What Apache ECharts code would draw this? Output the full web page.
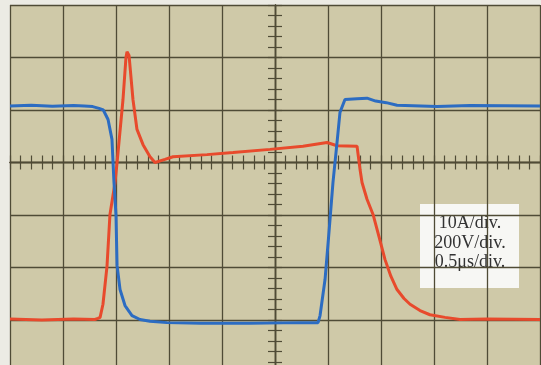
<!DOCTYPE html>
<html>
<head>
<meta charset="utf-8">
<script src="https://cdn.jsdelivr.net/npm/echarts@6/dist/echarts.min.js"></script>
<style>
html,body{margin:0;padding:0;background:#ecebe4;}
#c{width:541px;height:365px;}
</style>
</head>
<body>
<div id="c"></div>
<script>
// time in microseconds (0 = screen centre), 0.5 us/div
// current trace (A), 10 A/div
var currentData = [
  [-2.5, 0.2], [-2.2, 0.0], [-1.9, 0.2], [-1.7, 0.1], [-1.67, 0.3], [-1.65, 0.5],
  [-1.623, 3.0], [-1.585, 10.2], [-1.557, 20.1], [-1.509, 26.2], [-1.49, 30.0],
  [-1.434, 42.0], [-1.406, 50.0], [-1.396, 51.1], [-1.377, 50.4], [-1.34, 42.0],
  [-1.302, 36.3], [-1.245, 33.4], [-1.179, 31.1], [-1.132, 30.0], [-1.038, 30.6],
  [-0.962, 31.1], [-0.642, 31.5], [-0.396, 31.9], [-0.047, 32.5], [0.264, 33.1],
  [0.491, 33.8], [0.585, 33.2], [0.774, 33.1], [0.802, 28.7], [0.821, 26.2],
  [0.868, 23.0], [0.925, 20.1], [0.981, 15.9], [1.038, 11.5], [1.094, 8.3],
  [1.151, 5.8], [1.217, 4.1], [1.274, 3.0], [1.368, 1.8], [1.462, 1.0],
  [1.604, 0.5], [1.745, 0.1], [2.0, 0.2], [2.5, 0.1]
];
// voltage trace (V), 200 V/div
var voltageData = [
  [-2.5, 815], [-2.3, 818], [-2.1, 814], [-1.9, 817], [-1.8, 815], [-1.72, 813],
  [-1.66, 806], [-1.62, 800], [-1.575, 764], [-1.538, 688], [-1.519, 524],
  [-1.5, 398], [-1.49, 208], [-1.462, 116], [-1.415, 55], [-1.349, 17],
  [-1.274, 2], [-1.18, -5], [-1.019, -10], [-0.7, -12], [-0.24, -12], [0.24, -10],
  [0.406, -10], [0.425, 17], [0.472, 154], [0.509, 333], [0.547, 524],
  [0.585, 676], [0.613, 791], [0.66, 840], [0.774, 843], [0.868, 845],
  [0.95, 834], [1.05, 828], [1.151, 818], [1.528, 813], [1.84, 817], [2.5, 815]
];
var scaleLines = ['10A/div.', '200V/div.', '0.5\u03bcs/div.'];

var gridCol = '#4f4b36';
var chart = echarts.init(document.getElementById('c'), null, {renderer: 'canvas'});
function centreX(pos) {
  return {
    type: 'value', min: -2.5, max: 2.5, interval: 0.1, position: pos,
    axisLine: {show: true, onZero: true, onZeroAxisIndex: 0, lineStyle: {color: gridCol, width: 1.4}},
    axisTick: {show: true, inside: false, length: 7, lineStyle: {color: gridCol, width: 1.2}},
    axisLabel: {show: false}, splitLine: {show: false}
  };
}
function centreY(pos) {
  return {
    type: 'value', min: -5, max: 3, interval: 0.2, position: pos,
    axisLine: {show: true, onZero: true, onZeroAxisIndex: 0, lineStyle: {color: gridCol, width: 1.4}},
    axisTick: {show: true, inside: false, length: 7, lineStyle: {color: gridCol, width: 1.2}},
    axisLabel: {show: false}, splitLine: {show: false}
  };
}
chart.setOption({
  backgroundColor: '#ecebe4',
  animation: false,
  grid: {left: 10, top: 5, width: 530, height: 420, outerBoundsMode: 'none', containLabel: false,
         show: true, backgroundColor: '#cfc9a8', borderWidth: 0},
  xAxis: [
    {type: 'value', min: -2.5, max: 2.5, interval: 0.5,
     axisLine: {show: false}, axisTick: {show: false}, axisLabel: {show: false},
     splitLine: {show: true, lineStyle: {color: gridCol, width: 1.3}}},
    centreX('bottom'),
    centreX('top')
  ],
  yAxis: [
    {type: 'value', min: -5, max: 3, interval: 1,
     axisLine: {show: false}, axisTick: {show: false}, axisLabel: {show: false},
     splitLine: {show: true, lineStyle: {color: gridCol, width: 1.3}}},
    centreY('left'),
    centreY('right'),
    {type: 'value', min: -20, max: 60, show: false},
    {type: 'value', min: -400, max: 1200, show: false}
  ],
  series: [
    {type: 'line', name: 'Current', data: currentData, xAxisIndex: 0, yAxisIndex: 3,
     showSymbol: false, symbol: 'none', lineStyle: {color: '#e84a2c', width: 3}},
    {type: 'line', name: 'Voltage', data: voltageData, xAxisIndex: 0, yAxisIndex: 4,
     showSymbol: false, symbol: 'none', lineStyle: {color: '#2c6cc2', width: 3}}
  ],
  graphic: [
    {type: 'rect', x: 420, y: 204, shape: {width: 99, height: 84}, style: {fill: '#f7f7f4'}},
    {type: 'text', x: 470, y: 214,
     style: {text: scaleLines.join('\n'), align: 'center', verticalAlign: 'top',
             font: '18px "Liberation Serif"', lineHeight: 19.5, fill: '#333333'}}
  ]
});
</script>
</body>
</html>
